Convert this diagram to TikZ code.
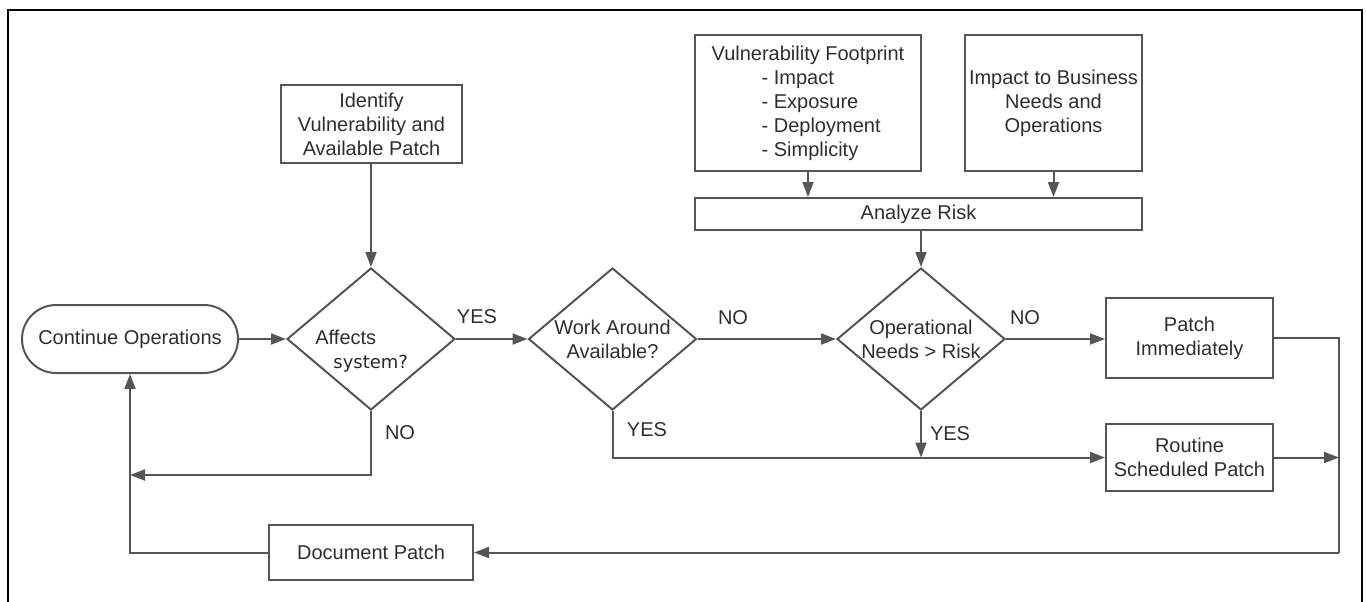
\documentclass[tikz,border=0pt]{standalone}
\usepackage{fontspec}
\setmainfont{Liberation Sans}
\newfontfamily\widesans{DejaVu Sans}
\usepackage{xcolor}
\usetikzlibrary{shapes, arrows.meta, positioning, calc, shapes.geometric}
\definecolor{linegray}{HTML}{555555}
\definecolor{textgray}{HTML}{2E2E2E}

\begin{document}
\begin{tikzpicture}[
    x=0.5pt, y=-0.5pt,
    every node/.style={font=\fontsize{10}{12}\selectfont, text=textgray},
    box/.style={rectangle, draw=linegray, line width=1pt, align=center, inner sep=0pt},
    decision/.style={diamond, draw=linegray, line width=1pt, align=center, inner sep=0pt, aspect=1.18, minimum width=84pt, minimum height=71pt},
    terminal/.style={rectangle, rounded corners=17pt, draw=linegray, line width=1pt, minimum width=108pt, minimum height=34pt},
    flow/.style={-{Triangle[length=7.5pt,width=5.5pt]}, draw=linegray, line width=1pt},
    conn/.style={draw=linegray, line width=1pt},
    answer/.style={inner sep=0pt}
]
\useasboundingbox (0,0) rectangle (1366,601);

% Frame
\draw[black, line width=1.3pt] (8,620) -- (8,10) -- (1362,10) -- (1362,620);

% Inputs
\node[box, minimum width=90.5pt, minimum height=39pt] (identify) at (371.5,124) {Identify\\Vulnerability and\\Available Patch};
\node[box, minimum width=113pt, minimum height=68pt, align=left] (footprint) at (808,103) {Vulnerability Footprint\\\hspace*{25pt}- Impact\\\hspace*{25pt}- Exposure\\\hspace*{25pt}- Deployment\\\hspace*{25pt}- Simplicity};
\node[box, minimum width=88.5pt, minimum height=68pt] (business) at (1053.5,103) {Impact to Business\\Needs and\\Operations};
\node[box, minimum width=223.5pt, minimum height=16pt] (analyze) at (918.5,214) {Analyze Risk};

% Main flow
\node[terminal] (continue) at (130,339) {Continue Operations};
\node[decision] (affects) at (371,339) {};
\node[align=left, anchor=west, inner sep=0pt] (affectslbl) at (315,351) {Affects\\\hspace*{9pt}{\widesans\fontsize{9}{12}\selectfont\color{black!85}system?}};
\node[decision] (workaround) at (612.5,339) {Work Around\\Available?};
\node[decision] (oper) at (921,339) {Operational\\Needs > Risk};
\node[box, minimum width=83.5pt, minimum height=40pt] (patch) at (1189.5,338) {Patch\\Immediately};
\node[box, minimum width=83.5pt, minimum height=33.5pt] (routine) at (1189.5,457.5) {Routine\\Scheduled Patch};
\node[box, minimum width=102pt, minimum height=27.5pt] (docpatch) at (371,552.5) {Document Patch};

% Junctions
\coordinate (nojoin) at (130,475);
\coordinate (rtop) at (1339,338);
\coordinate (rbot) at (1339,552.5);

% Connectors
\draw[flow] (identify.south -| affects.north) -- (affects.north);
\draw[flow] (footprint.south) -- (footprint.south |- analyze.north);
\draw[flow] (business.south) -- (business.south |- analyze.north);
\draw[flow] (analyze.south -| oper.north) -- (oper.north);
\draw[flow] (continue) -- (affects);
\draw[flow] (affects) -- (workaround);
\draw[flow] (workaround) -- (oper);
\draw[flow] (oper.east) -- (oper.east -| patch.west);
\draw[flow] (affects.south) |- (nojoin);
\draw[flow] (docpatch) -| (continue.south);
\draw[flow] (workaround.south) |- (routine.west);
\draw[flow] (oper.south) -- (oper.south |- routine.west);
\draw[conn] (patch.east) -- (rtop) -- (rbot);
\draw[flow] (rbot) -- (docpatch.east);
\draw[flow] (routine.east) -- (routine.east -| rtop);

% Answers
\node[answer] (yes1) at (477,317) {YES};
\node[answer] (no1) at (733,318) {NO};
\node[answer] (no2) at (1025,318) {NO};
\node[answer] (no3) at (400,433) {NO};
\node[answer] (yes2) at (647,430) {YES};
\node[answer] (yes3) at (950,434) {YES};

\end{tikzpicture}
\end{document}
